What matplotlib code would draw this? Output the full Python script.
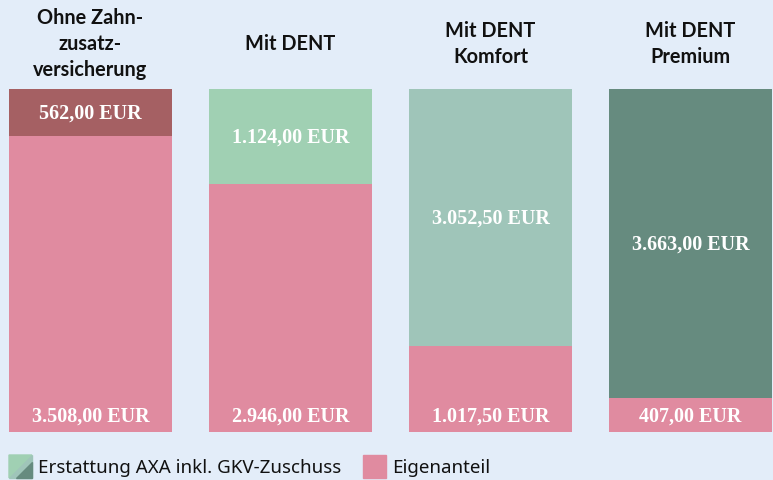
import matplotlib.pyplot as plt
from matplotlib.patches import Polygon, Rectangle

# data
categories = ['Ohne Zahn-\nzusatz-\nversicherung', 'Mit DENT', 'Mit DENT\nKomfort', 'Mit DENT\nPremium']
erstattung = [562.00, 1124.00, 3052.50, 3663.00]
eigenanteil = [3508.00, 2946.00, 1017.50, 407.00]
top_colors = ['#a56063', '#a0d0b3', '#9fc5b9', '#668b7f']
pink = '#e08ba0'
bg = '#e3edf9'


def eur(v):
    s = f'{v:,.2f}'.replace(',', 'X').replace('.', ',').replace('X', '.')
    return s + ' EUR'


W, H = 773, 481
fig = plt.figure(figsize=(W / 100, H / 100), dpi=100, facecolor=bg)
ax = fig.add_axes([0, 48 / H, 1, 343 / H])
ax.set_facecolor(bg)
ax.axis('off')

x = range(len(categories))
total = max(a + b for a, b in zip(erstattung, eigenanteil))
ax.bar(x, eigenanteil, width=0.815, color=pink)
ax.bar(x, erstattung, bottom=eigenanteil, width=0.815, color=top_colors)
ax.set_xlim(-90.5 / 200, (W - 90.5) / 200)
ax.set_ylim(0, total)

lab = dict(family='Liberation Serif', weight='bold', size=14.5, color='white',
           ha='center', va='center')
for i in x:
    ax.text(i, eigenanteil[i] + erstattung[i] / 2, eur(erstattung[i]), **lab)
    ax.annotate(eur(eigenanteil[i]), (i, 0), xytext=(0, 16), textcoords='offset pixels', **lab)
    ax.annotate(categories[i], (i, total), xytext=(0, 46), textcoords='offset pixels',
                ha='center', va='center', family='Lato', weight='bold', size=14.3,
                linespacing=1.36, color='#111111', annotation_clip=False)

# legend
def fx(px):
    return px / W


def fy(py):
    return 1 - py / H


x0, x1, y0, y1 = 9, 32, 456, 479
fig.add_artist(Polygon([(fx(x0), fy(y0)), (fx(x1), fy(y0)), (fx(x0), fy(y1))],
                       closed=True, color='#a0d0b3', transform=fig.transFigure))
fig.add_artist(Polygon([(fx(x1), fy(y0)), (fx(x1), fy(y1)), (fx(x0), fy(y1))],
                       closed=True, color='#9fc5b9', transform=fig.transFigure))
fig.add_artist(Polygon([(fx(x1), fy(y0 + 7)), (fx(x1), fy(y1)), (fx(x0 + 7), fy(y1))],
                       closed=True, color='#668b7f', transform=fig.transFigure))
fig.add_artist(Rectangle((fx(363), fy(479)), fx(23), 23 / H, color=pink,
                         transform=fig.transFigure))
leg = dict(family='Noto Sans', size=13.5, color='#111111', va='center')
fig.text(fx(38), fy(468), 'Erstattung AXA inkl. GKV-Zuschuss', **leg)
fig.text(fx(392), fy(468), 'Eigenanteil', **leg)

fig.savefig('out.png', dpi=100, facecolor=bg)
